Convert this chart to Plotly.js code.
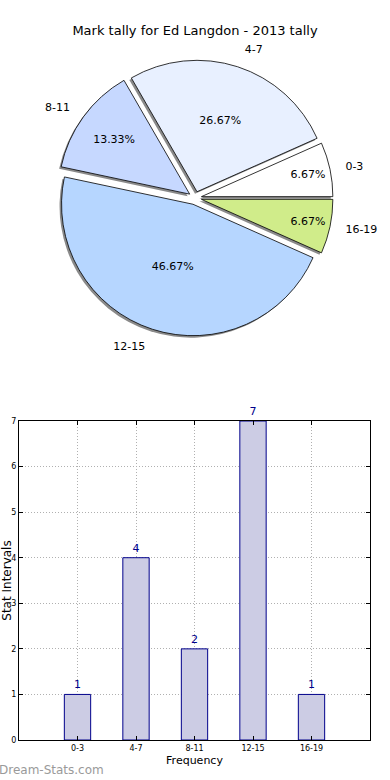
<!DOCTYPE html>
<html>
<head>
<meta charset="utf-8">
<script src="https://cdn.plot.ly/plotly-3.0.1.min.js"></script>
<style>html,body{margin:0;padding:0;background:#fff;}#chart{width:390px;height:780px;}</style>
</head>
<body>
<div id="chart"></div>
<script>
const categories = ["0-3", "4-7", "8-11", "12-15", "16-19"];
const counts = [1, 4, 2, 7, 1];
const sliceColors = ["#ffffff", "#e8f0ff", "#c6d8ff", "#b6d6ff", "#d0ec8a"];
const explode = [0.05, 0.05, 0.05, 0.05, 0.05];
const yTicks = [0, 1, 2, 3, 4, 5, 6, 7];

const W = 390, H = 780;
const font = "DejaVu Sans, sans-serif";

// first slice starts at 3 o'clock going counterclockwise (matplotlib default)
const total = counts.reduce((a, b) => a + b, 0);
const rot = 90 - 360 * counts[0] / total;

// pie geometry (pixels)
const pcx = 195, pcy = 198, half = 138;
function dom(cx, cy, h) {
  return {x: [(cx - h) / W, (cx + h) / W], y: [1 - (cy + h) / H, 1 - (cy - h) / H]};
}
const pieDomain = dom(pcx, pcy, half);
const shadowDomain = dom(pcx - 2, pcy + 2, half);
const labelDomain = dom(pcx, pcy, half * 1.09);

const shadow = {
  type: "pie", labels: categories, values: counts, sort: false,
  direction: "counterclockwise", rotation: rot, pull: explode,
  domain: shadowDomain,
  marker: {colors: categories.map(() => "#8a8a8a"), line: {width: 0}},
  textinfo: "none", hoverinfo: "skip", showlegend: false
};
const pie = {
  type: "pie", labels: categories, values: counts, sort: false,
  direction: "counterclockwise", rotation: rot, pull: explode,
  domain: pieDomain,
  marker: {colors: sliceColors, line: {color: "#000", width: 0.8}},
  texttemplate: "%{percent:.2%}", textposition: "inside",
  insidetextorientation: "horizontal",
  textfont: {family: font, size: 11, color: "#000"},
  showlegend: false
};
const labelRing = {
  type: "pie", labels: categories, values: counts, sort: false,
  direction: "counterclockwise", rotation: rot, pull: explode,
  domain: labelDomain,
  marker: {colors: categories.map(() => "rgba(0,0,0,0)"), line: {width: 0}},
  textinfo: "label", textposition: "outside",
  textfont: {family: font, size: 11, color: "#000"},
  hoverinfo: "skip", showlegend: false
};
const bars = {
  type: "bar", x: categories, y: counts, width: 0.45,
  marker: {color: "#ccccE4", line: {color: "#00008b", width: 1}},
  text: counts.map(String), textposition: "outside", cliponaxis: false,
  textfont: {family: font, size: 11, color: "#00008b"},
  xaxis: "x", yaxis: "y", showlegend: false
};

const layout = {
  width: W, height: H,
  margin: {l: 0, r: 0, t: 0, b: 0},
  paper_bgcolor: "#fff", plot_bgcolor: "#fff",
  font: {family: font, color: "#000"},
  title: {text: "Mark tally for Ed Langdon - 2013 tally", font: {family: font, size: 13, color: "#000"}, x: 0.5, xanchor: "center", y: 1 - 30 / H, yanchor: "middle"},
  xaxis: {
    domain: [19 / W, 370 / W], range: [-1, 5], type: "category",
    showline: true, linecolor: "#000", linewidth: 1, mirror: "ticks",
    ticks: "inside", ticklen: 4, tickcolor: "#000",
    showgrid: true, gridcolor: "#b0b0b0", griddash: "1px,2px", gridwidth: 1,
    tickfont: {family: font, size: 8, color: "#000"},
    title: {text: "Frequency", font: {family: font, size: 11, color: "#000"}, standoff: 4},
    automargin: false, zeroline: false, fixedrange: true
  },
  yaxis: {
    domain: [1 - 740 / H, 1 - 421 / H], range: [0, 7],
    tickvals: yTicks,
    showline: true, linecolor: "#000", linewidth: 1, mirror: "ticks",
    ticks: "inside", ticklen: 4, tickcolor: "#000",
    showgrid: true, gridcolor: "#b0b0b0", griddash: "1px,2px", gridwidth: 1,
    tickfont: {family: font, size: 8, color: "#000"},
    title: {text: "Stat Intervals", font: {family: font, size: 12, color: "#000"}, standoff: 0},
    automargin: false, zeroline: false, fixedrange: true
  },
  annotations: [{
    text: "Dream-Stats.com", xref: "paper", yref: "paper",
    x: -3 / W, y: 1 - 770 / H, xanchor: "left", yanchor: "middle",
    showarrow: false, font: {family: font, size: 12, color: "#9a9a9a"}
  }]
};

Plotly.newPlot("chart", [shadow, pie, labelRing, bars], layout, {staticPlot: true, displayModeBar: false});
</script>
</body>
</html>
